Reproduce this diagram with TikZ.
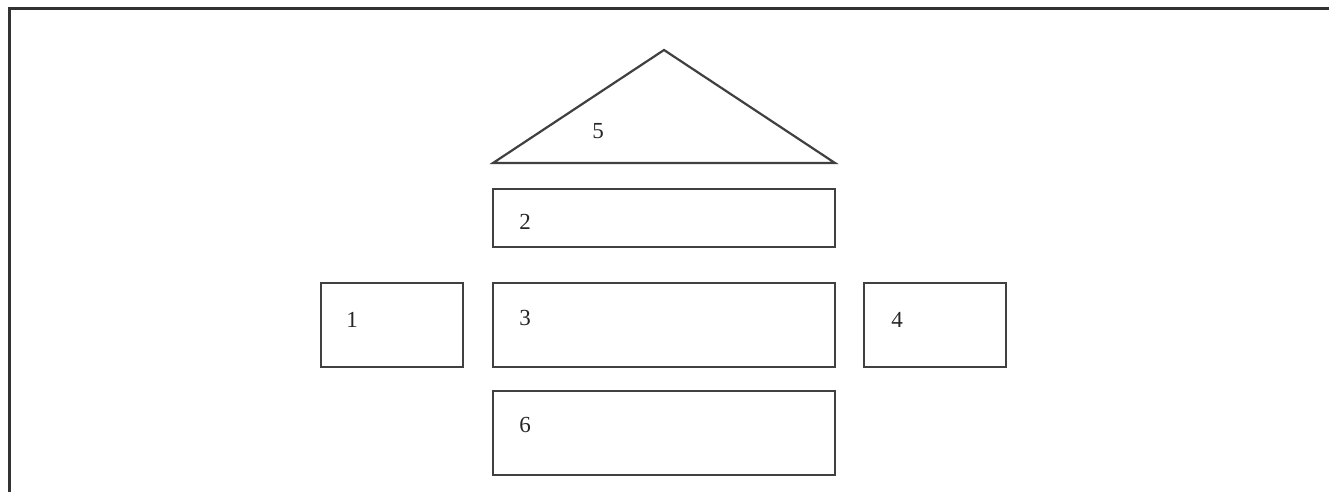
\documentclass[tikz,border=0pt]{standalone}
\usepackage{fontspec}
\setmainfont{Liberation Serif}
\begin{document}
\begin{tikzpicture}[x=1pt,y=-1pt,
  shape line/.style={draw=black!75,line width=2.2pt},
  lbl/.style={font=\fontsize{23}{23}\selectfont,text=black!85,inner sep=0pt}]
\useasboundingbox (0,0) rectangle (1329,492);
\draw[black!80,line width=3pt] (9,492) -- (9,9) -- (1329,9);
% triangle
\coordinate (apex) at (664,50);
\coordinate (bl) at (493,163);
\coordinate (br) at (835,163);
\draw[shape line,line join=miter] (bl) -- (apex) -- (br) -- cycle;
\node[lbl] (l5) at (598,131) {5};
% boxes
\draw[shape line] (493,189) rectangle (835,247);
\node[lbl] (l2) at (525,222) {2};
\draw[shape line] (321,283) rectangle (463,367);
\node[lbl] (l1) at (352,320) {1};
\draw[shape line] (493,283) rectangle (835,367);
\node[lbl] (l3) at (525,318) {3};
\draw[shape line] (864,283) rectangle (1006,367);
\node[lbl] (l4) at (897,320) {4};
\draw[shape line] (493,391) rectangle (835,475);
\node[lbl] (l6) at (525,425) {6};
\end{tikzpicture}
\end{document}
